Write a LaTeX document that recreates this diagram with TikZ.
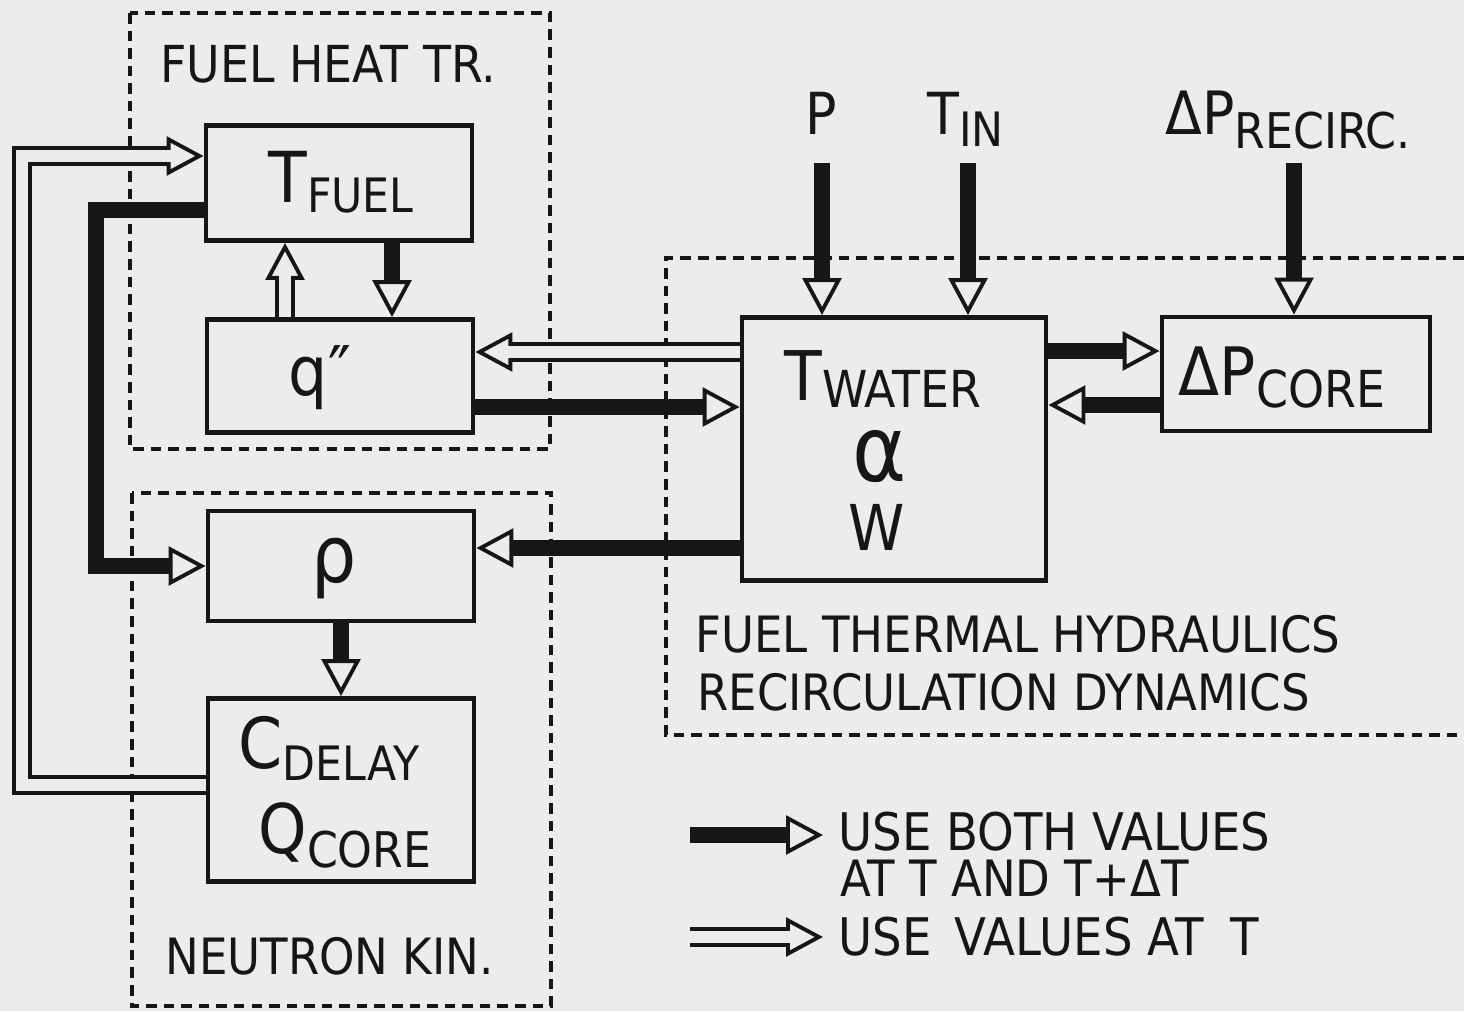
\documentclass[tikz,border=0pt]{standalone}
\usepackage{fontspec}
\setmainfont[FakeStretch=0.9]{DejaVu Sans}
\usetikzlibrary{arrows.meta,calc}
\definecolor{paper}{RGB}{236,236,234}
\definecolor{ink}{RGB}{22,22,22}
\newcommand{\fsz}[1]{\fontsize{#1}{#1}\selectfont}
\newcommand{\lsub}[3]{\raisebox{-#1}{\fontsize{#2}{#2}\selectfont #3}}
\def\u{0.02cm}
\begin{document}
\begin{tikzpicture}[x=0.02cm,y=-0.02cm,
  box/.style 2 args={draw=ink,line width=2.8pt,inner sep=0pt,minimum width=#1*0.02cm,minimum height=#2*0.02cm},
  txt/.style={inner sep=0pt,text=ink,anchor=base},
  regionline/.style={draw=ink,line width=2pt,dash pattern=on 6pt off 4pt},
  thickarr/.style={draw=ink,line width=9.6pt,-{Triangle[length=21pt,width=22pt,fill=paper,line width=2.2pt]}},
  hollowarr/.style={draw=ink,line width=11.5pt,-{Triangle[length=21pt,width=22pt,fill=paper,line width=2.2pt]},
    postaction={draw=paper,line width=6.5pt,-,shorten >=18pt}}]
\fill[paper] (0,0) rectangle (1464,1011);
\useasboundingbox (0,0) rectangle (1464,1011);

% dashed regions
\draw[regionline] (130,13) rectangle (550,449);
\draw[regionline] (132,493) rectangle (551,1006);
\draw[regionline] (1464,258) -- (666,258) -- (666,735) -- (1464,735);

% boxes
\node[box={266}{115}] (tfuel) at (339,183) {};
\node[box={266}{113}] (qpp) at (340,376) {};
\node[box={266}{110}] (rho) at (341,566) {};
\node[box={266}{183}] (cdel) at (341,790) {};
\node[box={304}{263}] (twat) at (894,449) {};
\node[box={268}{114}] (dpc) at (1296,374) {};

% box texts
\node[txt] (tfuelL) at (341,202) {\fsz{40}T\lsub{6pt}{27}{FUEL}};
\node[txt] (qL) at (320,395) {\fsz{39}q″};
\node[txt] (rhoL) at (334,582) {\fsz{45}ρ};
\node[txt] (cL) at (329,768) {\fsz{40}C\lsub{7pt}{27}{DELAY}};
\node[txt] (qcL) at (345,853) {\fsz{39}Q\lsub{8pt}{28}{CORE}};
\node[txt] (twL) at (883,400) {\fsz{39}T\lsub{4pt}{29}{WATER}};
\node[txt] (alL) at (880,481) {\fsz{52}α};
\node[txt] (wL) at (877,550) {\fsz{36}W};
\node[txt] (dpcL) at (1282,395) {\fsz{38}ΔP\lsub{7pt}{29}{CORE}};

% inputs
\node[txt,anchor=base west] (pL) at (805,134) {\fsz{33}P};
\node[txt,anchor=base west] (tinL) at (927,134) {\fsz{33}T\lsub{7pt}{27}{IN}};
\node[txt,anchor=base west] (dprL) at (1165,134) {\fsz{34}ΔP\lsub{8pt}{28}{RECIRC.}};
\coordinate (pst) at (822,163);
\coordinate (tst) at (968,163);
\coordinate (dst) at (1294,163);

% region labels
\node[txt,anchor=base west] (fht) at (160,82) {\fsz{29}FUEL HEAT TR.};
\node[txt,anchor=base west] (fth) at (695,652) {\fsz{28.5}FUEL THERMAL HYDRAULICS};
\node[txt,anchor=base west] (rcd) at (697,710) {\fsz{28.5}RECIRCULATION DYNAMICS};
\node[txt,anchor=base west] (nk) at (165,974) {\fsz{28.5}NEUTRON KIN.};

% legend
\node[txt,anchor=base west] (lg1) at (838,850) {\fsz{29.5}USE BOTH VALUES};
\node[txt,anchor=base west] (lg2) at (840,896) {\fsz{28.5}AT T AND T+ΔT};
\node[txt,anchor=base west] (lg3) at (838,955) {\fsz{29.5}USE\hspace{0.45em}VALUES AT\hspace{0.5em}T};
\coordinate (l1a) at (690,835);
\coordinate (l1b) at (823,835);
\coordinate (l2a) at (690,937);
\coordinate (l2b) at (823,937);

% helper corner coordinates
\coordinate (fbk) at (96,400);
\coordinate (lpx) at (22,500);

% connectors
\draw[hollowarr] ([xshift=-55*\u]qpp.north) -- ([xshift=-55*\u]qpp.north |- tfuel.south);
\draw[thickarr] ([xshift=53*\u]tfuel.south) -- ([xshift=53*\u]tfuel.south |- qpp.north);
\draw[hollowarr] ([yshift=97*\u]twat.west) -- ([yshift=97*\u]twat.west -| qpp.east);
\draw[thickarr] ([yshift=-31*\u]qpp.east) -- ([yshift=-31*\u]qpp.east -| twat.west);
\draw[thickarr] ([yshift=-99*\u]twat.west) -- ([yshift=-99*\u]twat.west -| rho.east);
\draw[thickarr] ([yshift=-27*\u]tfuel.west) -| (fbk) |- (rho.west);
\draw[thickarr] (rho.south) -- (cdel.north);
\draw[hollowarr] ([yshift=5*\u]cdel.west) -| (lpx) |- ([yshift=27*\u]tfuel.west);
\draw[thickarr] (pst) -- (pst |- twat.north);
\draw[thickarr] (tst) -- (tst |- twat.north);
\draw[thickarr] (dst) -- (dst |- dpc.north);
\draw[thickarr] ([yshift=98*\u]twat.east) -- ([yshift=98*\u]twat.east -| dpc.west);
\draw[thickarr] ([yshift=-31*\u]dpc.west) -- ([yshift=-31*\u]dpc.west -| twat.east);
\draw[thickarr] (l1a) -- (l1b);
\draw[hollowarr] (l2a) -- (l2b);
\end{tikzpicture}
\end{document}
